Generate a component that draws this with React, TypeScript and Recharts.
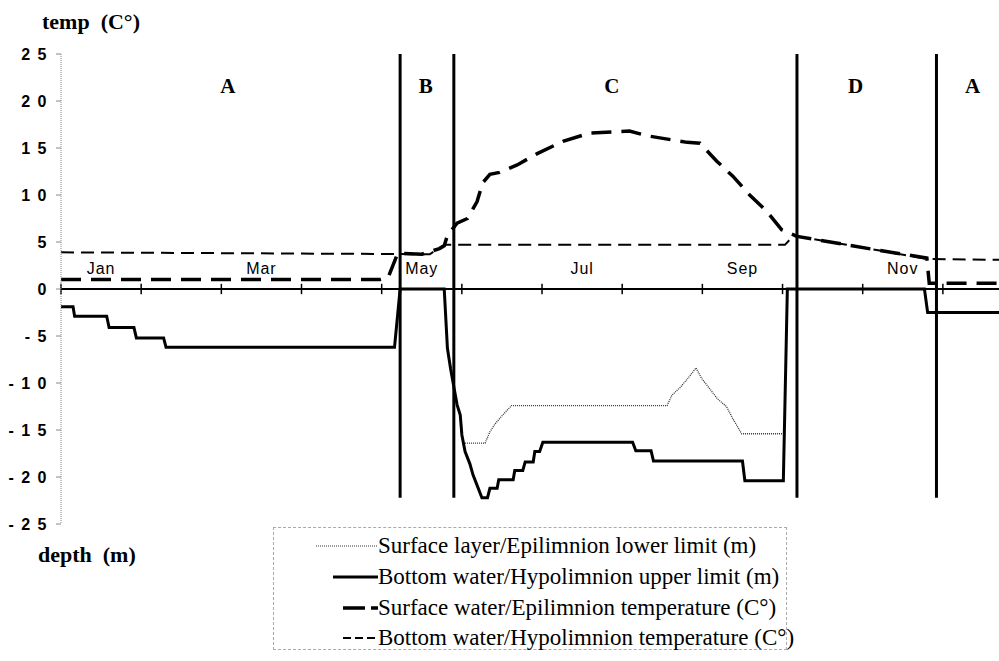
import { Label, Line, LineChart, ReferenceDot, ReferenceLine, XAxis, YAxis } from "recharts";

// x values are months from Jan 1 (0 = start of Jan, 12 = end of Dec)
const monthTicks = [0, 1, 2, 3, 4, 5, 6, 7, 8, 9, 10, 11];
const monthLabels = ["Jan", "Mar", "May", "Jul", "Sep", "Nov"];
const monthLabelAt = [0.5, 2.5, 4.5, 6.5, 8.5, 10.5];

const seasonBounds = [4.23, 4.9, 9.18, 10.92];
const seasonNames = ["A", "B", "C", "D", "A"];
const seasonNameAt = [2.08, 4.55, 6.87, 9.91, 11.37];

const yTicks = [25, 20, 15, 10, 5, 0, -5, -10, -15, -20, -25];

// [month, value]
const epilimnionLowerLimit: [number, number][] = [
  [5.04, -16.4], [5.29, -16.4], [5.35, -15.2], [5.41, -14.4], [5.51, -13.4],
  [5.62, -12.4], [7.56, -12.4], [7.62, -11.3], [7.72, -10.5], [7.82, -9.5],
  [7.92, -8.4], [7.99, -9.5], [8.09, -10.6], [8.19, -11.7], [8.3, -12.5],
  [8.38, -13.8], [8.49, -15.4], [9.0, -15.4],
];

const hypolimnionUpperLimit: [number, number][] = [
  [0, -1.9], [0.15, -1.9], [0.17, -2.9], [0.57, -2.9], [0.6, -4.1],
  [0.91, -4.1], [0.94, -5.2], [1.28, -5.2], [1.31, -6.2], [4.16, -6.2],
  [4.23, 0], [4.78, 0], [4.82, -6.3], [4.86, -8.5], [4.94, -12.3],
  [4.98, -13.4], [5.0, -15.5], [5.04, -17.3], [5.1, -18.6], [5.14, -19.8],
  [5.2, -21.1], [5.25, -22.2], [5.32, -22.2], [5.35, -21.2], [5.44, -21.2],
  [5.46, -20.3], [5.64, -20.3], [5.66, -19.3], [5.76, -19.3], [5.79, -18.4],
  [5.89, -18.4], [5.91, -17.3], [5.97, -17.3], [6.01, -16.3], [7.13, -16.3],
  [7.17, -17.2], [7.36, -17.2], [7.39, -18.3], [8.5, -18.3], [8.53, -20.4],
  [9.01, -20.4], [9.06, 0], [10.77, 0], [10.81, -2.5], [11.7, -2.5],
];

const surfaceTemp: [number, number][] = [
  [0, 1.0], [3.98, 1.0], [4.08, 1.2], [4.2, 3.8], [4.5, 3.7], [4.72, 4.3],
  [4.78, 4.6], [4.82, 5.7], [4.94, 7.0], [5.07, 7.5], [5.19, 9.3],
  [5.26, 11.3], [5.35, 12.2], [5.47, 12.4], [5.69, 13.2], [5.94, 14.4],
  [6.26, 15.7], [6.6, 16.6], [7.09, 16.8], [7.31, 16.3], [7.81, 15.6],
  [7.97, 15.5], [8.18, 13.6], [8.38, 12.0], [8.59, 10.0], [8.8, 8.3],
  [8.99, 6.3], [9.18, 5.6], [9.8, 4.7], [10.21, 4.1], [10.8, 3.3],
  [10.83, 0.6], [11.7, 0.6],
];

const bottomTemp: [number, number][] = [
  [0, 3.9], [4.6, 3.7], [4.78, 4.7], [9.03, 4.7], [9.13, 5.6], [9.18, 5.6],
  [9.8, 4.7], [10.21, 4.1], [10.8, 3.2], [11.7, 3.1],
];

const toRows = (pts: [number, number][]) => pts.map(([m, v]) => ({ m, v }));

const serif = "'Liberation Serif', 'Times New Roman', serif";
const sans = "'Liberation Sans', Arial, sans-serif";

const legendItems = [
  { text: "Surface layer/Epilimnion lower limit (m)", x1: 5, w: 1.2, dash: "1 1", color: "#333" },
  { text: "Bottom water/Hypolimnion upper limit (m)", x1: 22, w: 3, dash: undefined, color: "#000" },
  { text: "Surface water/Epilimnion temperature (C°)", x1: 32, w: 3.5, dash: "22 6 8 6 8 6", color: "#000" },
  { text: "Bottom water/Hypolimnion temperature (C°)", x1: 32, w: 2, dash: "8 4", color: "#000" },
];

export default function App() {
  return (
    <div style={{ position: "absolute", left: 0, top: 0, width: 999, height: 661, background: "#fff" }}>
      <LineChart
        width={999}
        height={661}
        margin={{ top: 54, right: 0, bottom: 137, left: 11 }}
      >
        <XAxis dataKey="m" type="number" domain={[0, 11.7]} allowDataOverflow hide />
        <YAxis
          type="number"
          domain={[-25, 25]}
          ticks={yTicks}
          width={50}
          interval={0}
          axisLine={{ stroke: "#888", strokeDasharray: "1 1" }}
          tickLine={{ stroke: "#888" }}
          tickSize={5}
          tickMargin={8}
          tickFormatter={(v) => String(v).split("").join(" ")}
          tick={{ fontFamily: sans, fontSize: 16, fontWeight: "bold", fill: "#000", letterSpacing: 1.5 }}
        />
        <ReferenceLine y={0} stroke="#000" strokeWidth={2} />
        {monthTicks.map((t) => (
          <ReferenceLine
            key={`t${t}`}
            segment={[{ x: t, y: 0.55 }, { x: t, y: -0.55 }]}
            stroke="#000"
            strokeWidth={1.5}
          />
        ))}
        {seasonBounds.map((b) => (
          <ReferenceLine
            key={`s${b}`}
            segment={[{ x: b, y: 25 }, { x: b, y: -22.2 }]}
            stroke="#000"
            strokeWidth={3}
          />
        ))}
        {monthLabels.map((lab, i) => (
          <ReferenceDot key={lab} x={monthLabelAt[i]} y={2.2} r={0} stroke="none" fill="none">
            <Label
              value={lab}
              position="center"
              fontFamily={sans}
              fontSize={16}
              fill="#000"
              letterSpacing={1}
            />
          </ReferenceDot>
        ))}
        {seasonNames.map((n, i) => (
          <ReferenceDot key={`n${i}`} x={seasonNameAt[i]} y={21.6} r={0} stroke="none" fill="none">
            <Label
              value={n}
              position="center"
              fontFamily={serif}
              fontSize={21}
              fontWeight="bold"
              fill="#000"
            />
          </ReferenceDot>
        ))}
        <Line
          data={toRows(epilimnionLowerLimit)}
          dataKey="v"
          type="linear"
          dot={false}
          stroke="#333"
          strokeWidth={1.3}
          strokeDasharray="1 1"
          isAnimationActive={false}
        />
        <Line
          data={toRows(hypolimnionUpperLimit)}
          dataKey="v"
          type="linear"
          dot={false}
          stroke="#000"
          strokeWidth={3}
          isAnimationActive={false}
        />
        <Line
          data={toRows(bottomTemp)}
          dataKey="v"
          type="linear"
          dot={false}
          stroke="#000"
          strokeWidth={2}
          strokeDasharray="13 7"
          isAnimationActive={false}
        />
        <Line
          data={toRows(surfaceTemp)}
          dataKey="v"
          type="linear"
          dot={false}
          stroke="#000"
          strokeWidth={3.5}
          strokeDasharray="20 10"
          isAnimationActive={false}
        />
      </LineChart>

      <div style={{ position: "absolute", left: 42, top: 11, fontFamily: serif, fontSize: 22, fontWeight: "bold", lineHeight: "22px", whiteSpace: "pre" }}>
        {"temp  (C°)"}
      </div>
      <div style={{ position: "absolute", left: 38, top: 544, fontFamily: serif, fontSize: 22, fontWeight: "bold", lineHeight: "22px", whiteSpace: "pre" }}>
        {"depth  (m)"}
      </div>

      <div
        style={{
          position: "absolute",
          left: 273,
          top: 527,
          width: 514,
          height: 123,
          border: "1px dashed #aaa",
          boxSizing: "border-box",
          paddingTop: 3,
        }}
      >
        {legendItems.map((it) => (
          <div key={it.text} style={{ display: "flex", alignItems: "center", height: 30.7 }}>
            <svg width={104} height={12} style={{ flex: "none" }}>
              <line
                x1={it.x1 + 37}
                x2={104}
                y1={6}
                y2={6}
                stroke={it.color}
                strokeWidth={it.w}
                strokeDasharray={it.dash}
              />
            </svg>
            <span style={{ fontFamily: serif, fontSize: 23, lineHeight: "30px", whiteSpace: "nowrap" }}>
              {it.text}
            </span>
          </div>
        ))}
      </div>
    </div>
  );
}
